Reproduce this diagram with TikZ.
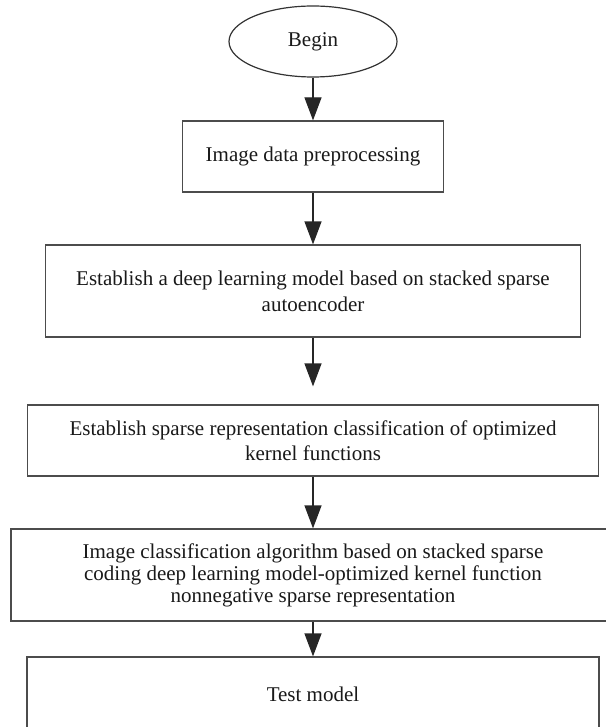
\documentclass[tikz,border=0pt]{standalone}
\usepackage{fontspec}
\setmainfont{Liberation Serif}
\usetikzlibrary{arrows.meta, shapes.geometric, positioning}

\begin{document}
\begin{tikzpicture}[
    x=0.5pt, y=-0.5pt, >=Latex,
    % --- STYLES ---
    terminal/.style={ellipse, draw=black!80, line width=0.6pt, minimum width=84pt, minimum height=35.5pt, inner sep=0pt, text=black!90, font=\fontsize{10.5}{12.5}\selectfont},
    procbox/.style={rectangle, draw=black!70, line width=0.6pt, align=center, inner sep=0pt, text=black!90, font=\fontsize{10.5}{13}\selectfont},
    flow/.style={-{Triangle[width=8.5pt, length=11.5pt]}, black!85, line width=0.6pt}
]
\useasboundingbox (0,0) rectangle (605,727);

% --- 1. START ---
\node[terminal] (begin) at (313,41.5) {Begin};

% --- 2. STEPS ---
\node[procbox, minimum width=130.5pt, minimum height=35.5pt] (prep) at (313,156.5) {Image data preprocessing};
\node[procbox, minimum width=267.5pt, minimum height=46pt] (ssae) at (313,291) {Establish a deep learning model based on stacked sparse\\autoencoder};
\node[procbox, minimum width=285.5pt, minimum height=35.5pt, font=\fontsize{10.5}{12.5}\selectfont] (src) at (313,440.5) {Establish sparse representation classification of optimized\\kernel functions};
\node[procbox, minimum width=302pt, minimum height=46pt, font=\fontsize{10.5}{11}\selectfont] (cls) at (313,575) {Image classification algorithm based on stacked sparse\\coding deep learning model-optimized kernel function\\nonnegative sparse representation};
\node[procbox, minimum width=286pt, minimum height=37pt] (test) at (313,694) {Test model};

% --- 3. FLOW ---
\draw[flow] (begin) -- (prep);
\draw[flow] (prep) -- (ssae);
\draw[flow, shorten >=9pt] (ssae) -- (src);
\draw[flow] (src) -- (cls);
\draw[flow] (cls) -- (test);

\end{tikzpicture}
\end{document}
